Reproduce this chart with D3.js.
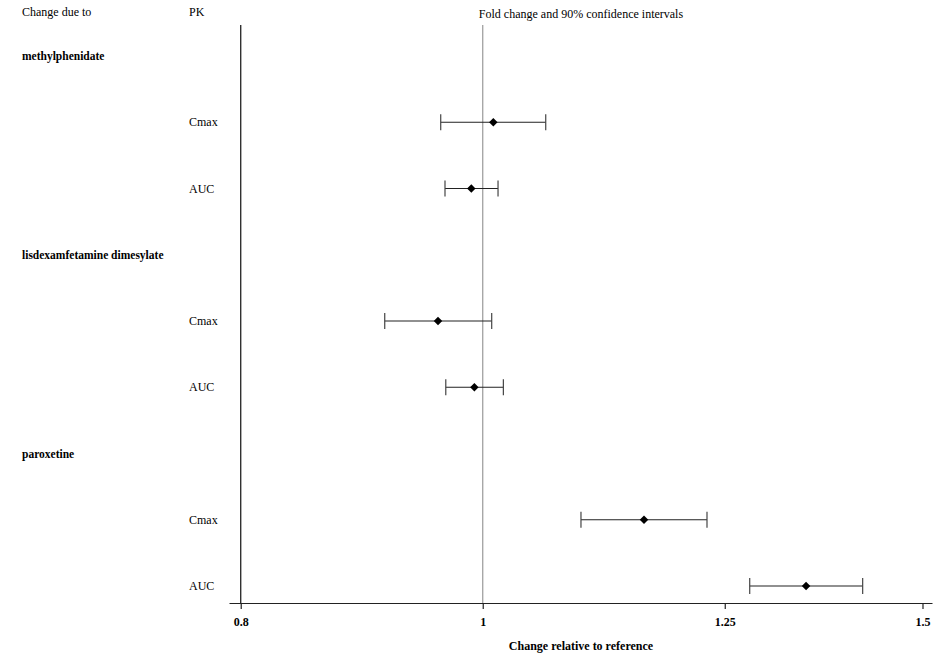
<!DOCTYPE html>
<html lang="en">
<head>
    <meta charset="utf-8">
    <title>Fold change forest plot</title>
    <script src="https://cdn.jsdelivr.net/npm/d3@7"></script>
    <style>
        body { margin: 0; background: #fff; }
        svg text { font-family: "Liberation Serif", "DejaVu Serif", serif; fill: #000; }
    </style>
</head>
<body>
<script>
    // data
    const drugs = ["methylphenidate", "lisdexamfetamine dimesylate", "paroxetine"];
    const pkParams = ["Cmax", "AUC"];
    const estimate = [1.0098, 0.9895, 0.9596, 0.9923, 1.1603, 1.3473];
    const lower = [0.962, 0.9658, 0.9136, 0.9665, 1.0948, 1.2791];
    const upper = [1.0598, 1.0142, 1.0083, 1.0192, 1.2297, 1.4195];
    const tickValues = [0.8, 1, 1.25, 1.5];
    const tickLabels = ["0.8", "1", "1.25", "1.5"];

    const width = 941, height = 657;

    const svg = d3.select("body").append("svg")
        .attr("width", width)
        .attr("height", height);

    // rows: drug heading, then one row per PK parameter
    const rows = [];
    drugs.forEach((d, i) => {
        rows.push({key: "g" + i, type: "group", label: d});
        pkParams.forEach((p, j) => {
            const k = i * pkParams.length + j;
            rows.push({key: "r" + k, type: "pk", label: p, est: estimate[k], lo: lower[k], hi: upper[k]});
        });
    });

    const x = d3.scaleLog().domain([0.7914, 1.5132]).range([229, 932]);
    const y = d3.scalePoint().domain(rows.map(r => r.key)).range([56, 586]);

    const axisY = 603, topY = 25;

    // header texts
    svg.append("text").attr("x", 22).attr("y", 16).style("font-size", "12px").text("Change due to");
    svg.append("text").attr("x", 189).attr("y", 16).style("font-size", "12px").text("PK");
    svg.append("text").attr("x", 581).attr("y", 18).attr("text-anchor", "middle")
        .style("font-size", "12px").text("Fold change and 90% confidence intervals");

    // reference line at 1 and left line at 0.8
    svg.append("line")
        .attr("x1", x(1)).attr("x2", x(1)).attr("y1", topY).attr("y2", axisY)
        .attr("stroke", "#999").attr("stroke-width", 1.2);
    svg.append("line")
        .attr("x1", x(0.8)).attr("x2", x(0.8)).attr("y1", topY).attr("y2", axisY)
        .attr("stroke", "#222").attr("stroke-width", 1.3);

    // x axis
    const axis = svg.append("g")
        .attr("transform", `translate(0,${axisY})`)
        .call(d3.axisBottom(x).tickValues(tickValues).tickSize(6).tickSizeOuter(0)
            .tickFormat((d, i) => tickLabels[i]));
    axis.select(".domain").attr("stroke", "#222").attr("stroke-width", 1.2);
    axis.selectAll(".tick line").attr("stroke", "#222").attr("stroke-width", 1.2);
    axis.selectAll(".tick text")
        .attr("y", 14)
        .style("font-family", "'Liberation Serif', serif")
        .style("font-size", "12px")
        .style("font-weight", "bold")
        .attr("fill", "#000");

    svg.append("text").attr("x", 581).attr("y", 650).attr("text-anchor", "middle")
        .style("font-size", "12px").style("font-weight", "bold")
        .text("Change relative to reference");

    // row labels
    svg.selectAll("text.group").data(rows.filter(r => r.type === "group")).join("text")
        .attr("class", "group")
        .attr("x", 22).attr("y", r => y(r.key) + 4)
        .style("font-size", "11.5px").style("font-weight", "bold")
        .text(r => r.label);

    svg.selectAll("text.pk").data(rows.filter(r => r.type === "pk")).join("text")
        .attr("class", "pk")
        .attr("x", 189).attr("y", r => y(r.key) + 4)
        .style("font-size", "12px")
        .text(r => r.label);

    // error bars
    const pk = rows.filter(r => r.type === "pk");
    const bars = svg.selectAll("g.bar").data(pk).join("g").attr("class", "bar");

    bars.append("line")
        .attr("x1", r => x(r.lo)).attr("x2", r => x(r.hi))
        .attr("y1", r => y(r.key)).attr("y2", r => y(r.key))
        .attr("stroke", "#222").attr("stroke-width", 1.2);
    bars.append("line")
        .attr("x1", r => x(r.lo)).attr("x2", r => x(r.lo))
        .attr("y1", r => y(r.key) - 8).attr("y2", r => y(r.key) + 8)
        .attr("stroke", "#444").attr("stroke-width", 1.2);
    bars.append("line")
        .attr("x1", r => x(r.hi)).attr("x2", r => x(r.hi))
        .attr("y1", r => y(r.key) - 8).attr("y2", r => y(r.key) + 8)
        .attr("stroke", "#444").attr("stroke-width", 1.2);

    // square diamond marker (rotated square)
    const diamond = d3.symbol().type(d3.symbolSquare).size(36);
    bars.append("path")
        .attr("d", diamond)
        .attr("transform", r => `translate(${x(r.est)},${y(r.key)}) rotate(45)`)
        .attr("fill", "#000");
</script>
</body>
</html>
